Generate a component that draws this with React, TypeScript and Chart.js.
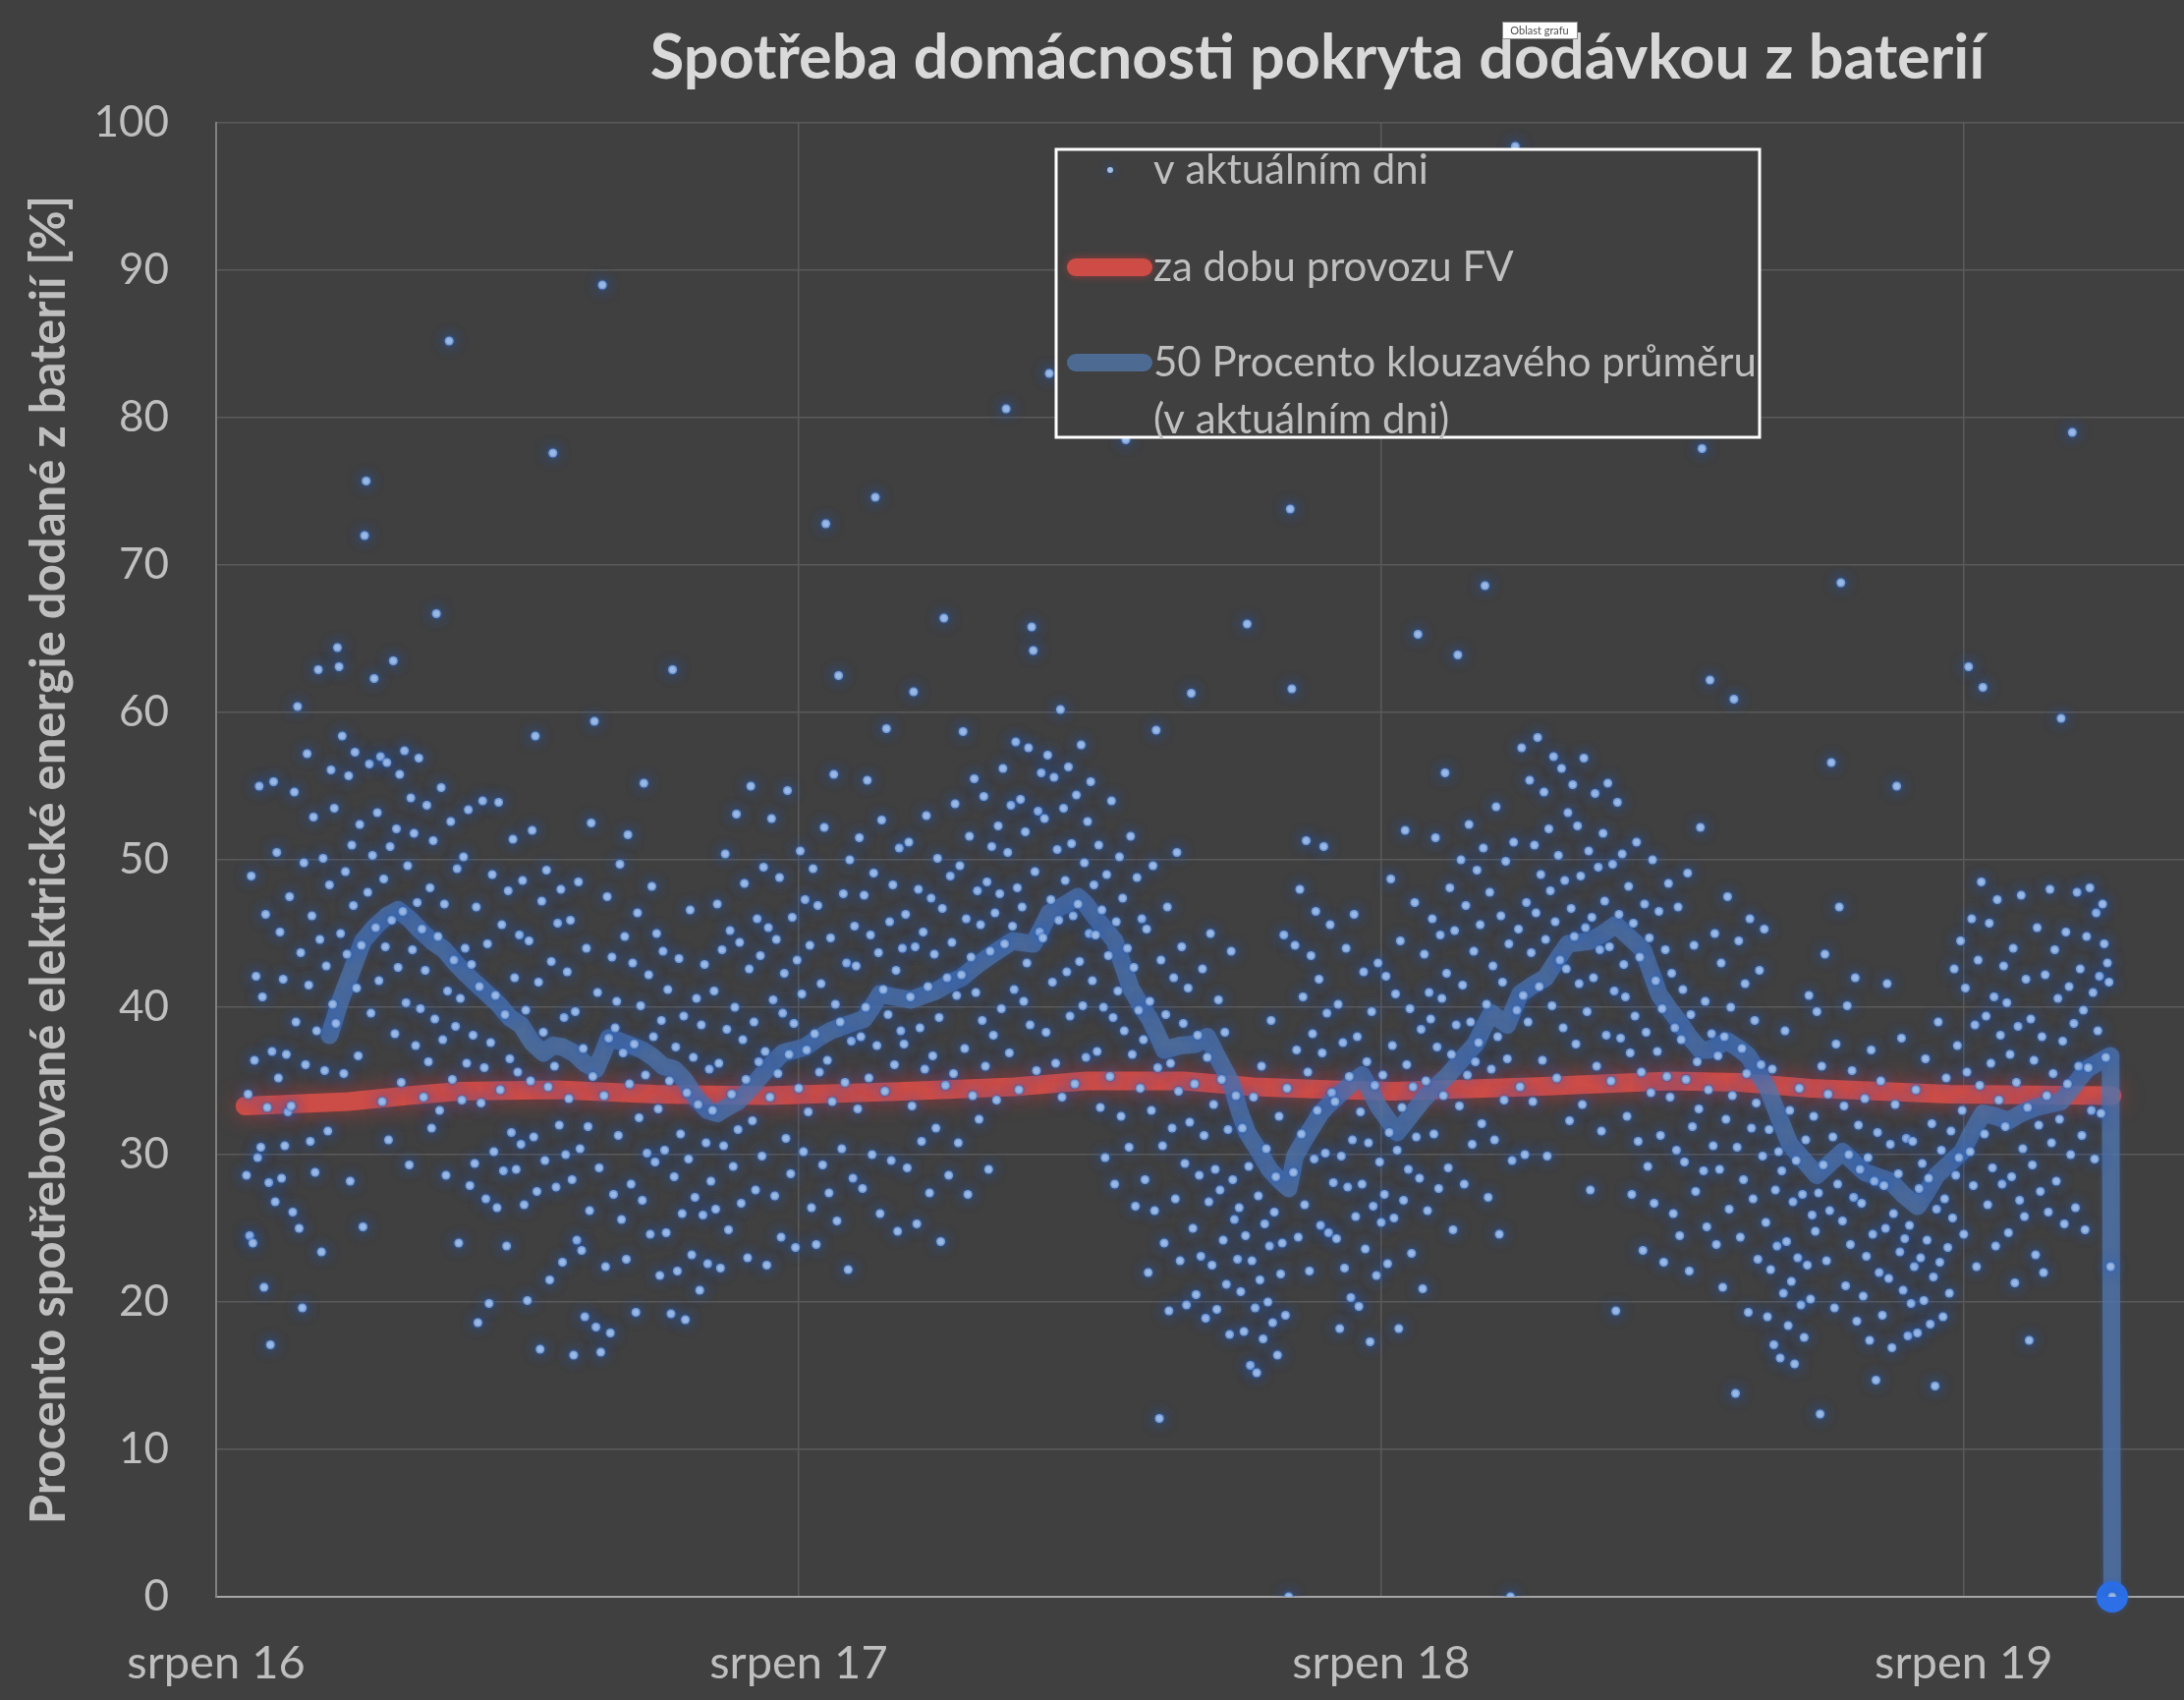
import React, { useEffect, useRef } from 'react';
import { Chart, registerables } from 'chart.js';

Chart.register(...registerables);

const TITLE = 'Spotřeba domácnosti pokryta dodávkou z baterií';
const Y_TITLE = 'Procento spotřebované elektrické energie dodané z baterií [%]';
const X_TICK_DAYS = [0, 365, 730, 1095];
const X_TICK_LABELS = ['srpen 16', 'srpen 17', 'srpen 18', 'srpen 19'];
const SERIES_LABELS = ['v aktuálním dni', 'za dobu provozu FV', '50 Procento klouzavého průměru (v aktuálním dni)'];
const LEGEND_LINES = [['v aktuálním dni'], ['za dobu provozu FV'], ['50 Procento klouzavého průměru', '(v aktuálním dni)']];
const TOOLTIP_TEXT = 'Oblast grafu';

// daily values, x = days since 1 Aug 2016
const START_2016 = 19;
const daily2016 = [
  28.6, 34.1, 24.5, 48.9, 24.0, 36.4, 42.1, 29.8, 55.0, 30.5, 40.7, 21.0, 46.3, 33.2, 28.1, 17.1, 37.0, 55.3, 26.8, 50.5, 35.2, 45.1, 28.4, 41.9, 30.6, 36.8, 32.9,
  47.5, 33.3, 26.1, 54.6, 39.0, 60.4, 25.0, 43.7, 19.6, 49.8, 36.1, 57.2, 41.5, 30.9, 46.2, 52.9, 28.8, 38.4, 62.9, 44.6, 23.4, 50.1, 35.7, 42.8, 31.6,
  48.3, 56.1, 40.2, 53.5, 38.9, 64.4, 63.1, 45.0, 58.4, 35.5, 49.2, 43.6, 55.7, 28.2, 51.0, 46.9, 57.3, 41.3, 36.7, 52.4, 44.2, 25.1, 72.0, 75.7, 47.8, 56.5, 39.6, 50.3, 62.3, 45.4,
  53.2, 41.8, 57.0, 33.6, 48.7, 44.1, 56.6, 31.0, 50.9, 45.9, 63.5, 38.2, 52.1, 42.7, 55.8, 34.9, 46.5, 57.4, 40.3, 49.6, 29.3, 54.2, 43.9, 51.8, 37.4, 47.1, 56.9, 39.9, 45.3, 33.9,
  42.5, 53.7, 36.3, 48.1, 31.8, 51.3, 39.2, 66.7, 44.8, 33.0, 54.9, 37.8, 47.0, 28.6, 41.1, 85.2, 52.6, 35.1, 43.2, 38.7, 49.4, 24.0,
];
const START_2017 = 153;
const daily2017 = [
  40.6, 33.7, 50.2, 44.0, 36.2, 53.4, 27.9, 42.9,
  38.1, 29.4, 46.8, 18.6, 41.4, 33.5, 54.0, 35.9, 27.0, 44.3, 19.9, 37.6, 49.0, 30.2, 40.8, 26.4, 53.9, 34.4, 45.6, 28.9, 39.5, 23.8, 47.9, 36.5, 31.5, 51.4, 42.0, 29.0, 35.6, 44.9,
  30.7, 48.6, 26.6, 39.8, 20.1, 44.5, 35.0, 52.0, 31.2, 58.4, 27.5, 41.7, 16.8, 47.2, 38.3, 29.6, 49.3, 34.6, 21.5, 43.1, 77.6, 36.0, 27.8, 45.7, 32.0, 48.0, 22.7, 39.3, 30.0, 42.4,
  33.8, 45.9, 28.3, 16.4, 39.7, 24.2, 48.5, 30.4, 23.5, 37.2, 19.0, 44.0, 31.9, 26.2, 52.5, 35.3, 59.4, 18.3, 41.0, 29.1, 16.6, 89.0, 34.0, 22.4, 47.5, 37.9, 17.9, 43.4, 27.3, 38.6,
  40.4, 31.3, 49.7, 25.6, 36.9, 44.8, 22.9, 51.7, 34.8, 28.0, 43.0, 37.5, 19.3, 46.4, 32.5, 40.1, 26.9, 55.2, 35.4, 30.1, 42.2, 24.6, 48.2, 38.0, 29.5, 45.0, 33.1, 21.8, 39.1, 43.8,
  30.3, 24.7, 41.2, 35.0, 19.2, 62.9, 28.5, 37.3, 22.1, 43.3, 31.4, 26.0, 39.4, 18.8, 34.2, 29.7, 46.6, 23.2, 36.6, 27.1, 40.6, 33.4, 20.8, 38.8, 25.9, 42.9, 30.8, 22.6, 35.8, 28.2,
  33.0, 41.1, 26.3, 47.0, 36.2, 22.3, 43.9, 30.6, 50.4, 38.5, 24.9, 45.2, 34.1, 29.2, 40.0, 53.1, 31.7, 44.4, 26.7, 37.8, 48.4, 35.1, 23.0, 42.6, 55.0, 32.3, 39.0, 27.6, 46.0, 36.3,
  43.5, 29.9, 49.5, 37.0, 22.5, 45.4, 33.9, 52.8, 40.5, 27.2, 44.6, 35.5, 48.8, 24.4, 39.6, 42.3, 31.1, 54.7, 36.8, 28.7, 46.1, 38.9, 23.7, 43.2, 34.5, 50.6, 40.9, 30.2, 47.3, 37.1,
  32.9, 44.2, 26.4, 49.4, 38.2, 23.9, 46.9, 35.6, 41.6, 29.3, 52.2, 72.8, 36.4, 27.4, 44.7, 33.6, 55.8, 40.2, 25.5, 62.5, 39.0, 30.4, 47.7, 34.9, 43.0, 22.2, 50.0, 37.7, 28.4, 45.5,
  42.8, 33.1, 51.5, 38.0, 27.7, 47.6, 40.0, 55.4, 35.2, 44.9, 30.0, 49.1, 74.6, 37.4, 43.7, 26.0, 52.7, 41.2, 34.3, 58.9, 39.5, 45.8, 29.6, 48.3, 36.1, 42.5, 24.8, 50.8, 38.4, 44.0,
  37.5, 46.3, 29.1, 51.2, 40.7, 33.3, 61.4, 44.1, 25.3, 48.0, 38.6, 30.9, 45.1, 35.8, 53.0, 41.4, 27.4, 47.4, 36.7, 43.6, 31.8, 50.1, 39.3, 24.1, 46.7, 66.4, 34.7, 42.0, 28.6, 48.9,
  44.4, 35.5, 53.8, 40.8, 30.8, 49.6, 42.2, 58.7, 37.2, 46.0, 27.3, 51.6, 43.4, 34.0, 55.5, 41.0, 47.9, 32.4, 45.6, 39.1, 54.3, 36.0, 48.5, 29.0, 43.8, 50.9, 38.1, 46.4, 33.7, 52.3,
  47.7, 39.9, 56.2, 44.3, 80.6, 50.5, 36.9, 53.7, 45.5, 41.2, 58.0, 48.1, 34.4, 54.1, 46.8, 40.4, 51.9, 43.0, 57.6, 38.8, 65.8, 64.2, 49.2, 35.7, 53.3, 45.1, 55.9,
];
const START_2018 = 518;
const daily2018 = [
  44.7, 52.8, 38.3, 57.1, 83.0, 47.3, 41.7, 55.6, 36.2, 50.7, 45.9, 60.2, 33.9, 53.5, 48.6, 42.4, 56.3, 39.4, 51.1, 46.2, 34.8, 54.4, 47.0, 43.1, 57.8, 40.1, 49.8, 36.6, 52.6, 45.0, 55.3, 41.8, 48.3,
  44.9, 37.0, 51.0, 33.2, 46.6, 40.0, 29.8, 49.0, 43.5, 35.3, 54.0, 39.3, 28.0, 45.8, 41.1, 50.2, 32.6, 47.4, 38.4, 78.5, 44.0, 30.5, 51.6, 36.8, 42.7, 26.5, 48.8, 39.8, 34.5, 46.0,
  37.8, 28.3, 45.3, 22.0, 40.4, 33.0, 49.6, 26.2, 58.8, 35.9, 12.1, 43.2, 30.6, 24.0, 39.5, 46.8, 19.4, 36.2, 31.8, 42.0, 27.0, 50.5, 34.3, 22.8, 44.1, 38.9, 29.4, 19.8, 41.3, 32.2,
  61.3, 25.0, 34.8, 20.5, 38.1, 28.6, 23.1, 42.6, 31.3, 18.9, 36.6, 26.8, 45.0, 22.5, 33.4, 29.0, 19.5, 40.5, 27.6, 35.1, 24.2, 38.3, 21.2, 31.7, 17.8, 43.8, 28.3, 25.6, 34.0, 22.9,
  26.4, 20.7, 31.8, 18.0, 24.5, 66.0, 29.2, 15.7, 22.8, 33.9, 19.6, 15.2, 27.2, 21.5, 36.0, 17.5, 25.3, 30.4, 20.0, 23.8, 39.1, 18.6, 26.1, 28.5, 16.4, 32.6, 21.9, 24.0, 44.9, 19.1,
  34.5, 0, 73.8, 61.6, 28.8, 44.2, 37.1, 24.4, 48.0, 31.4, 40.7, 26.6, 51.3, 35.6, 22.1, 43.5, 38.2, 29.7, 46.5, 33.0, 41.9, 25.2, 36.9, 50.9, 30.1, 39.6, 24.7, 45.6, 34.2, 28.1,
  33.6, 24.3, 40.2, 18.2, 29.9, 37.6, 22.3, 44.0, 27.8, 35.3, 20.3, 31.0, 46.3, 25.8, 38.0, 19.7, 32.9, 28.0, 42.4, 23.6, 36.3, 30.8, 17.3, 39.7, 26.5, 34.7, 21.8, 43.0, 29.5, 25.4,
  35.4, 27.3, 42.1, 22.6, 31.5, 48.7, 37.4, 25.7, 40.9, 30.3, 18.2, 44.5, 33.2, 26.9, 52.0, 36.1, 29.0, 39.9, 23.3, 34.6, 47.1, 31.2, 65.3, 28.4, 38.5, 20.9, 43.6, 35.0, 26.2, 41.0,
  39.2, 46.0, 31.4, 51.5, 37.3, 27.7, 44.9, 40.6, 34.0, 55.9, 42.3, 29.1, 48.1, 36.8, 24.9, 45.2, 38.8, 63.9, 33.3, 50.0, 41.5, 28.0, 46.9, 35.4, 52.4, 39.0, 30.7, 43.8, 36.3, 49.3,
  37.6, 45.6, 32.1, 50.8, 68.6, 40.2, 27.1, 47.8, 35.8, 42.8, 31.0, 53.6, 38.0, 24.6, 46.2, 41.7, 33.7, 49.9, 36.5, 44.3, 0, 29.6, 51.2, 98.4, 39.8, 45.3, 34.6, 57.6, 40.8, 30.0,
  47.1, 39.0, 55.4, 43.7, 33.6, 51.0, 46.4, 58.3, 41.4, 49.0, 36.4, 54.6, 44.6, 29.9, 52.1, 47.9, 40.1, 57.0, 45.8, 35.2, 50.3, 43.2, 56.2, 38.6, 48.6, 42.6, 53.2, 32.3, 46.7, 55.1,
  44.8, 37.5, 52.3, 41.6, 48.9, 33.4, 56.9, 45.4, 39.7, 50.6, 27.6, 46.1, 42.0, 54.5, 36.0, 49.5, 43.9, 31.6, 51.8, 47.2, 38.1, 55.2, 44.1, 35.0, 49.7, 41.1, 19.4, 53.9, 46.3, 37.9, 50.4, 42.9,
];
const START_2019 = 883;
const daily2019 = [
  40.7, 32.6, 48.2, 36.9, 27.3, 45.7, 39.4, 51.2, 30.9, 43.4, 35.6, 23.5, 47.0, 38.3, 29.2, 44.7, 34.2, 50.0, 26.7, 41.8, 37.0, 46.5, 31.3, 39.9, 22.7, 43.9, 35.3, 48.4,
  33.9, 42.3, 26.0, 38.6, 30.3, 46.8, 24.5, 37.8, 41.2, 29.5, 35.1, 49.1, 22.1, 39.5, 31.9, 44.2, 27.5, 36.3, 33.1, 52.2, 77.9, 28.9, 40.4, 25.1, 34.4, 62.2, 38.2, 30.6, 45.0, 23.9,
  36.7, 29.0, 43.0, 21.0, 38.0, 32.4, 47.5, 26.3, 40.0, 34.0, 60.9, 13.8, 30.5, 44.5, 24.4, 37.2, 28.3, 41.6, 35.5, 19.3, 46.0, 31.8, 27.0, 39.1, 33.5, 22.9, 42.5, 36.1, 29.9, 45.3,
  25.4, 19.0, 31.7, 22.2, 35.8, 17.1, 27.6, 23.8, 30.2, 16.2, 28.9, 20.6, 38.4, 24.1, 18.4, 33.0, 21.4, 26.8, 15.8, 29.6, 23.0, 34.5, 19.8, 27.3, 17.6, 31.0, 22.5, 40.8, 20.2, 25.9,
  32.6, 24.8, 39.7, 27.4, 12.4, 36.0, 29.3, 43.6, 22.8, 34.1, 26.2, 56.6, 31.2, 19.6, 37.5, 28.0, 46.8, 68.8, 25.5, 33.3, 21.1, 40.1, 30.0, 23.9, 35.7, 27.1, 42.0, 18.7, 32.0, 29.0,
  26.7, 20.4, 33.8, 23.1, 29.8, 17.4, 37.1, 24.6, 28.2, 14.7, 31.5, 22.0, 35.0, 19.1, 27.9, 25.0, 41.6, 21.6, 30.7, 16.9, 26.0, 33.4, 55.0, 28.7, 23.4, 37.9, 20.8, 24.3, 31.1, 17.7,
  25.2, 19.9, 30.9, 22.4, 34.4, 17.9, 27.7, 23.0, 29.4, 20.1, 36.5, 24.2, 28.4, 18.5, 32.1, 21.7, 14.3, 26.3, 39.0, 22.7, 30.3, 19.0, 27.0, 35.2, 23.7, 20.6, 31.6, 25.7, 42.6, 28.6,
  37.4, 29.8, 44.5, 33.0, 24.6, 41.3, 35.6, 63.1, 30.2, 46.0, 27.9, 38.8, 22.4, 43.2, 34.7, 48.5, 61.7, 31.4, 39.4, 26.6, 45.7, 36.2, 29.1, 40.7, 23.8, 47.3, 33.7, 38.1, 28.0, 42.8,
  31.9, 40.3, 24.7, 36.8, 28.5, 44.0, 21.3, 34.9, 38.7, 26.9, 47.6, 30.4, 25.8, 41.9, 33.2, 17.4, 39.2, 29.3, 36.4, 23.2, 45.4, 32.0, 27.5, 38.0, 22.0, 42.2, 34.0, 26.1, 48.0, 30.8,
  35.5, 43.9, 28.2, 40.6, 32.4, 59.6, 37.7, 25.3, 45.1, 34.8, 41.4, 30.0, 79.0, 38.9, 26.4, 47.8, 36.0, 42.6, 31.3, 39.8, 24.9, 44.8, 35.9, 48.1, 33.0, 41.0, 29.7, 46.4, 38.4, 42.1, 32.8, 47.0, 44.3, 36.6, 43.0, 41.7, 22.4, 0,
];

// cumulative share over the whole PV operation period
const cumulativeDays = [18, 40, 83, 120, 153, 214, 275, 345, 432, 500, 545, 606, 650, 700, 737, 824, 911, 955, 999, 1086, 1188];
const cumulativeValues = [33.3, 33.4, 33.6, 34.0, 34.3, 34.4, 34.1, 34.0, 34.3, 34.6, 35.0, 35.0, 34.6, 34.4, 34.3, 34.6, 35.0, 34.9, 34.5, 34.1, 34.0];

// 50-point moving average
const movingAvgDays = [
  71, 78, 85, 92, 100, 107, 114, 121, 128, 135,
  143, 150, 157, 163, 170, 177, 184, 191, 198, 205,
  211, 217, 224, 231, 238, 242, 246, 253, 260, 267,
  274, 280, 287, 294, 301, 308, 314, 320, 327, 333,
  338, 345, 355, 362, 369, 377, 385, 395, 406, 411,
  416, 425, 435, 443, 451, 459, 467, 476, 485, 492,
  499, 505, 512, 517, 522, 531, 540, 545, 550, 557,
  563, 568, 573, 579, 585, 590, 594, 604, 614, 621,
  628, 636, 641, 646, 653, 660, 666, 672, 676, 684,
  692, 698, 704, 711, 718, 723, 728, 734, 740, 748,
  756, 764, 772, 780, 789, 794, 799, 804, 809, 813,
  817, 825, 833, 840, 847, 854, 861, 869, 877, 885,
  894, 899, 904, 911, 918, 923, 930, 935, 941, 947,
  954, 960, 966, 972, 979, 986, 995, 1003, 1011, 1019,
  1026, 1033, 1041, 1049, 1057, 1066, 1072, 1078, 1086, 1094,
  1100, 1107, 1115, 1123, 1131, 1140, 1148, 1156, 1164, 1172,
  1180, 1187, 1188,
];
const movingAvgValues = [
  38.1, 40.5, 42.5, 44.5, 45.5, 46.2, 46.6, 46.0, 45.2, 44.5,
  43.9, 43.0, 42.2, 41.6, 40.9, 40.2, 39.3, 38.8, 37.6, 36.9,
  37.4, 37.3, 36.9, 36.2, 35.8, 36.8, 37.9, 37.7, 37.4, 37.1,
  36.6, 36.0, 35.8, 35.0, 33.8, 33.0, 32.8, 33.2, 33.6, 34.3,
  34.9, 35.8, 36.9, 37.1, 37.3, 37.9, 38.4, 38.8, 39.2, 40.0,
  40.9, 40.7, 40.5, 40.8, 41.1, 41.6, 42.0, 42.8, 43.5, 44.0,
  44.5, 44.4, 44.3, 45.3, 46.4, 46.9, 47.5, 47.0, 46.2, 45.3,
  44.5, 42.9, 41.3, 40.2, 39.2, 38.1, 37.1, 37.4, 37.5, 38.0,
  36.5, 34.9, 33.0, 31.5, 30.3, 29.0, 28.3, 27.7, 29.9, 31.4,
  32.8, 33.5, 34.1, 34.8, 35.4, 34.4, 33.3, 32.4, 31.5, 32.6,
  33.7, 34.6, 35.4, 36.4, 37.5, 38.6, 39.6, 39.2, 38.8, 39.9,
  40.9, 41.5, 42.0, 43.2, 44.3, 44.4, 44.5, 45.0, 45.6, 44.8,
  43.9, 42.4, 40.9, 39.8, 38.8, 38.0, 37.1, 37.1, 37.4, 37.7,
  37.2, 36.7, 35.6, 34.5, 32.6, 30.7, 29.6, 28.6, 29.4, 30.2,
  29.5, 28.8, 28.5, 28.2, 27.3, 26.5, 27.5, 28.6, 29.4, 30.2,
  31.5, 32.8, 32.6, 32.3, 32.8, 33.2, 33.4, 33.6, 34.7, 35.8,
  36.3, 36.7, 0,
];

const X_MAX = 1233;

const BG = '#404040';
const GRID = '#5a5a5a';
const TEXT = '#bfbfbf';
const TITLE_COLOR = '#d9d9d9';
const DOT = '#a3bfe6';
const DOT_RING = 'rgba(45,98,180,0.32)';
const DOT_GLOW = 'rgba(30,95,215,0.85)';
const RED = 'rgba(212,78,72,0.92)';
const RED_GLOW = 'rgba(235,55,55,0.55)';
const MA = 'rgba(82,118,168,0.74)';
const MA_END = '#2d6fe6';

export default function App() {
  const ref = useRef<HTMLCanvasElement | null>(null);

  useEffect(() => {
    document.body.style.margin = '0';
    document.body.style.background = BG;
    const canvas = ref.current;
    if (!canvas) return;

    const segments: [number, number[]][] = [
      [START_2016, daily2016],
      [START_2017, daily2017],
      [START_2018, daily2018],
      [START_2019, daily2019],
    ];
    const scatterData = segments.flatMap(([start, vals]) => vals.map((v, i) => ({ x: start + i, y: v })));
    const cumData = cumulativeDays.map((d, i) => ({ x: d, y: cumulativeValues[i] }));
    const maData = movingAvgDays.map((d, i) => ({ x: d, y: movingAvgValues[i] }));
    const maLast = maData.length - 1;

    const glow: Record<number, [string, number]> = { 0: [DOT_GLOW, 14], 1: [RED_GLOW, 22], 2: ['rgba(50,110,220,0.4)', 6] };

    const bgPlugin = {
      id: 'bg',
      beforeDraw(chart: any) {
        const c = chart.ctx;
        c.save();
        c.fillStyle = BG;
        c.fillRect(0, 0, chart.width, chart.height);
        c.restore();
      },
    };

    const glowPlugin = {
      id: 'glow',
      beforeDatasetDraw(chart: any, args: any) {
        const g = glow[args.index];
        if (!g) return;
        chart.ctx.save();
        chart.ctx.shadowColor = g[0];
        chart.ctx.shadowBlur = g[1];
      },
      afterDatasetDraw(chart: any, args: any) {
        if (!glow[args.index]) return;
        chart.ctx.restore();
      },
    };

    const overlayPlugin = {
      id: 'overlay',
      afterDraw(chart: any) {
        const c = chart.ctx as CanvasRenderingContext2D;
        c.save();
        // title
        c.font = 'bold 63px Lato';
        c.fillStyle = TITLE_COLOR;
        c.textAlign = 'center';
        c.textBaseline = 'alphabetic';
        c.fillText(TITLE, 1341, 80);

        // excel tooltip
        c.fillStyle = '#ffffff';
        c.fillRect(1529, 22, 76, 17);
        c.strokeStyle = '#8a8a8a';
        c.lineWidth = 1;
        c.strokeRect(1529.5, 22.5, 76, 17);
        c.fillStyle = '#505050';
        c.font = '11px Lato';
        c.textBaseline = 'middle';
        c.fillText(TOOLTIP_TEXT, 1567, 31);

        // legend
        const bx = 1075, by = 152, bw = 716, bh = 293;
        c.fillStyle = BG;
        c.fillRect(bx, by, bw, bh);
        c.strokeStyle = '#ffffff';
        c.lineWidth = 3;
        c.strokeRect(bx, by, bw, bh);

        // item 1 marker
        c.save();
        c.shadowColor = DOT_GLOW;
        c.shadowBlur = 8;
        c.fillStyle = DOT;
        c.beginPath();
        c.arc(1130, 173, 3, 0, Math.PI * 2);
        c.fill();
        c.restore();

        // line swatches
        const swatch = (y: number, color: string, g: string, blur: number) => {
          c.save();
          c.shadowColor = g;
          c.shadowBlur = blur;
          c.strokeStyle = color;
          c.lineWidth = 18;
          c.lineCap = 'round';
          c.beginPath();
          c.moveTo(1095, y);
          c.lineTo(1164, y);
          c.stroke();
          c.restore();
        };
        swatch(272, RED, RED_GLOW, 8);
        swatch(369, 'rgba(76,106,146,1)', 'rgba(0,0,0,0)', 0);

        c.fillStyle = TEXT;
        c.font = '42px Lato';
        c.textAlign = 'left';
        c.textBaseline = 'middle';
        const rows = [173, 272, 369];
        LEGEND_LINES.forEach((lines, i) => {
          lines.forEach((t, j) => c.fillText(t, 1174, rows[i] + j * 58));
        });
        c.restore();
      },
    };

    const chart = new Chart(canvas, {
      type: 'scatter',
      data: {
        datasets: [
          {
            label: SERIES_LABELS[0],
            data: scatterData,
            order: 0,
            pointRadius: 4.5,
            pointBackgroundColor: DOT,
            pointBorderWidth: 3,
            pointBorderColor: DOT_RING,
          },
          {
            label: SERIES_LABELS[1],
            data: cumData,
            order: 2,
            showLine: true,
            borderColor: RED,
            borderWidth: 19,
            borderCapStyle: 'round',
            borderJoinStyle: 'round',
            pointRadius: 0,
            tension: 0,
          },
          {
            label: SERIES_LABELS[2],
            data: maData,
            order: 1,
            showLine: true,
            borderColor: MA,
            borderWidth: 18,
            borderCapStyle: 'round',
            borderJoinStyle: 'round',
            tension: 0,
            clip: false,
            pointRadius: (ctx: any) => (ctx.dataIndex === maLast ? 16 : 0),
            pointBackgroundColor: MA_END,
            pointBorderWidth: 0,
          },
        ] as any,
      },
      options: {
        animation: false,
        responsive: false,
        devicePixelRatio: 1,
        events: [],
        layout: { autoPadding: false, padding: { top: 125, left: 0, right: 0, bottom: 0 } },
        plugins: {
          legend: { display: false },
          tooltip: { enabled: false },
          title: { display: false },
        },
        scales: {
          x: {
            type: 'linear',
            min: 0,
            max: X_MAX,
            afterBuildTicks: (scale: any) => {
              scale.ticks = X_TICK_DAYS.map((v) => ({ value: v }));
            },
            afterFit: (scale: any) => {
              scale.height = 105;
            },
            ticks: {
              autoSkip: false,
              maxRotation: 0,
              padding: 40,
              color: TEXT,
              font: { family: 'Lato', size: 47 },
              callback: (v: any) => {
                const i = X_TICK_DAYS.indexOf(Number(v));
                return i >= 0 ? X_TICK_LABELS[i] : '';
              },
            },
            grid: { color: GRID, lineWidth: 1.5, drawTicks: false },
            border: { color: '#a6a6a6', width: 2 },
          },
          y: {
            min: 0,
            max: 100,
            afterFit: (scale: any) => {
              scale.width = 220;
            },
            ticks: {
              stepSize: 10,
              padding: 48,
              color: TEXT,
              font: { family: 'Lato', size: 44 },
            },
            grid: { color: GRID, lineWidth: 1.5, drawTicks: false },
            border: { color: '#808080', width: 2 },
            title: {
              display: true,
              text: Y_TITLE,
              color: TEXT,
              font: { family: 'Lato', size: 49, weight: 'bold' },
              padding: { top: 21, bottom: 0 },
            },
          },
        },
      },
      plugins: [bgPlugin, glowPlugin, overlayPlugin],
    } as any);

    return () => chart.destroy();
  }, []);

  return (
    <div style={{ width: 2223, height: 1730, background: BG }}>
      <canvas ref={ref} width={2223} height={1730} style={{ display: 'block', width: 2223, height: 1730 }} />
    </div>
  );
}
